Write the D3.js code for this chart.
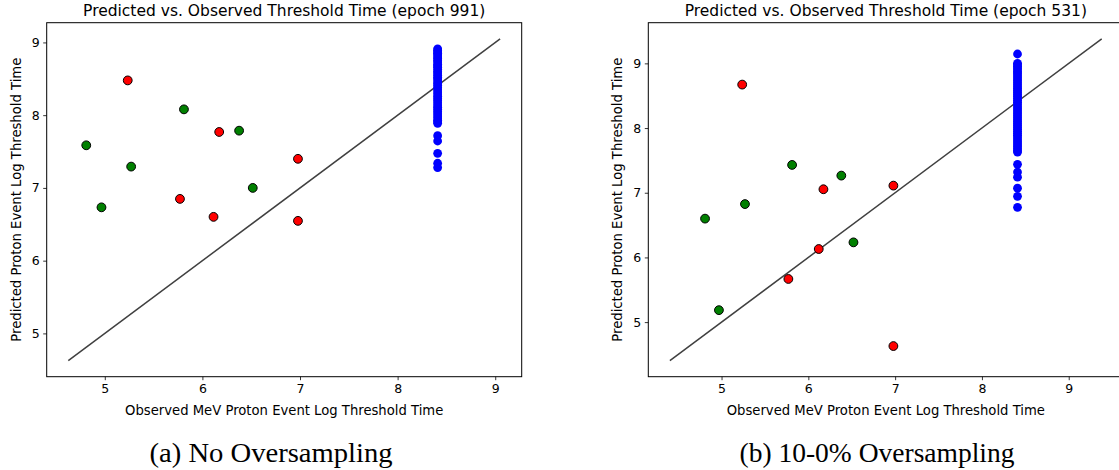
<!DOCTYPE html>
<html>
<head>
<meta charset="utf-8">
<script src="https://cdn.jsdelivr.net/npm/d3@7"></script>
<style>
  html, body { margin: 0; padding: 0; background: #fff; }
  svg { display: block; }
</style>
</head>
<body>
<svg id="fig" width="1119" height="470"></svg>
<script>
// ---- Panel (a): no oversampling, epoch 991 ----
const aTitle = "Predicted vs. Observed Threshold Time (epoch 991)";
const aCaption = "(a) No Oversampling";
const aGreenObs  = [4.81, 4.966, 5.27, 5.811, 6.376, 6.516];
const aGreenPred = [7.586, 6.733, 7.293, 8.08, 7.787, 7.0];
const aRedObs    = [5.235, 5.77, 6.114, 6.172, 6.979, 6.979];
const aRedPred   = [8.478, 6.849, 6.602, 7.769, 7.40, 6.547];
const aBlueObs   = 8.41;
const aBluePred  = [8.912, 8.89, 8.87, 8.85, 8.83, 8.80, 8.78, 8.75, 8.73, 8.70,
                    8.68, 8.66, 8.63, 8.60, 8.58, 8.55, 8.52, 8.50, 8.47, 8.44,
                    8.41, 8.38, 8.35, 8.32, 8.29, 8.26, 8.23, 8.20, 8.17, 8.14,
                    8.11, 8.08, 8.05, 8.02, 7.99, 7.96, 7.93, 7.91, 7.888,
                    7.718, 7.645, 7.476, 7.339, 7.279];
const aIdentity  = [4.626, 9.05];

// ---- Panel (b): 10-0% oversampling, epoch 531 ----
const bTitle = "Predicted vs. Observed Threshold Time (epoch 531)";
const bCaption = "(b) 10-0% Oversampling";
const bGreenObs  = [4.81, 4.97, 5.27, 5.813, 6.38, 6.52];
const bGreenPred = [6.60, 5.185, 6.825, 7.43, 7.265, 6.233];
const bRedObs    = [5.238, 5.77, 6.12, 6.174, 6.98, 6.98];
const bRedPred   = [8.672, 5.667, 6.13, 7.054, 7.11, 4.63];
const bBlueObs   = 8.41;
const bBluePred  = [9.145, 9.0, 8.98, 8.95, 8.93, 8.90, 8.87, 8.85, 8.82, 8.79,
                    8.76, 8.73, 8.70, 8.67, 8.64, 8.61, 8.58, 8.55, 8.52, 8.49,
                    8.46, 8.43, 8.40, 8.37, 8.34, 8.31, 8.28, 8.25, 8.22, 8.19,
                    8.16, 8.13, 8.10, 8.07, 8.04, 8.01, 7.98, 7.95, 7.92, 7.89,
                    7.86, 7.83, 7.80, 7.77, 7.74, 7.71, 7.68, 7.65, 7.629,
                    7.44, 7.32, 7.24, 7.07, 6.945, 6.775];
const bIdentity  = [4.405, 9.38];

const ticks = [5, 6, 7, 8, 9];
const xLabel = "Observed MeV Proton Event Log Threshold Time";
const yLabel = "Predicted Proton Event Log Threshold Time";

const svg = d3.select("#fig");
const W = 475, H = 354;

function panel(left, top, cfg) {
  const [lo, hi] = cfg.identity;
  const pad = (hi - lo) * 0.05;
  const dom = [lo - pad, hi + pad];
  const x = d3.scaleLinear().domain(dom).range([0, W]);
  const y = d3.scaleLinear().domain(dom).range([H, 0]);

  const g = svg.append("g").attr("transform", `translate(${left},${top})`);

  const clipId = "clip" + Math.round(left);
  g.append("clipPath").attr("id", clipId)
    .append("rect").attr("width", W).attr("height", H);

  const plot = g.append("g").attr("clip-path", `url(#${clipId})`);

  // identity reference line
  plot.append("line")
    .attr("x1", x(lo)).attr("y1", y(lo))
    .attr("x2", x(hi)).attr("y2", y(hi))
    .attr("stroke", "#404040").attr("stroke-width", 1.5);

  // blue column
  plot.selectAll("circle.blue").data(cfg.blue).join("circle")
    .attr("class", "blue")
    .attr("cx", x(cfg.blueObs)).attr("cy", d => y(d))
    .attr("r", 4.4).attr("fill", "#0000ff");

  const greens = cfg.greenObs.map((o, i) => [o, cfg.greenPred[i]]);
  const reds = cfg.redObs.map((o, i) => [o, cfg.redPred[i]]);

  plot.selectAll("circle.green").data(greens).join("circle")
    .attr("class", "green")
    .attr("cx", d => x(d[0])).attr("cy", d => y(d[1]))
    .attr("r", 4.4).attr("fill", "#008000")
    .attr("stroke", "#000").attr("stroke-width", 1);

  plot.selectAll("circle.red").data(reds).join("circle")
    .attr("class", "red")
    .attr("cx", d => x(d[0])).attr("cy", d => y(d[1]))
    .attr("r", 4.4).attr("fill", "#ff0000")
    .attr("stroke", "#000").attr("stroke-width", 1);

  // axes
  const xAxis = g.append("g").attr("transform", `translate(0,${H})`)
    .call(d3.axisBottom(x).tickValues(ticks).tickSize(3.5).tickPadding(3.5).tickFormat(d3.format("d")));
  const yAxis = g.append("g")
    .call(d3.axisLeft(y).tickValues(ticks).tickSize(3.5).tickPadding(3.5).tickFormat(d3.format("d")));
  [xAxis, yAxis].forEach(a => {
    a.select(".domain").remove();
    a.selectAll("line").attr("stroke", "#000").attr("stroke-width", 0.8);
    a.selectAll("text").attr("font-family", "DejaVu Sans").attr("font-size", 12.5).attr("fill", "#000");
  });

  // frame
  g.append("rect").attr("width", W).attr("height", H)
    .attr("fill", "none").attr("stroke", "#000").attr("stroke-width", 1);

  // title
  g.append("text").attr("x", W / 2).attr("y", -7.2)
    .attr("text-anchor", "middle")
    .attr("font-family", "DejaVu Sans").attr("font-size", 15.5)
    .text(cfg.title);

  // axis labels
  g.append("text").attr("x", W / 2).attr("y", H + 38.5)
    .attr("text-anchor", "middle")
    .attr("font-family", "DejaVu Sans").attr("font-size", 13.2)
    .text(xLabel);
  g.append("text")
    .attr("transform", `translate(${-26},${H / 2}) rotate(-90)`)
    .attr("text-anchor", "middle")
    .attr("font-family", "DejaVu Sans").attr("font-size", 13.2)
    .text(yLabel);

  // sub-figure caption
  svg.append("text").attr("x", cfg.capX).attr("y", 462)
    .attr("text-anchor", "middle")
    .attr("font-family", "Liberation Serif").attr("font-size", 27)
    .attr("textLength", cfg.capW).attr("lengthAdjust", "spacingAndGlyphs")
    .text(cfg.caption);
}

panel(46.7, 22.7, {
  title: aTitle, caption: aCaption, capX: 271, capW: 243,
  greenObs: aGreenObs, greenPred: aGreenPred,
  redObs: aRedObs, redPred: aRedPred,
  blueObs: aBlueObs, blue: aBluePred, identity: aIdentity
});
panel(648.3, 22.7, {
  title: bTitle, caption: bCaption, capX: 877, capW: 275,
  greenObs: bGreenObs, greenPred: bGreenPred,
  redObs: bRedObs, redPred: bRedPred,
  blueObs: bBlueObs, blue: bBluePred, identity: bIdentity
});
</script>
</body>
</html>
